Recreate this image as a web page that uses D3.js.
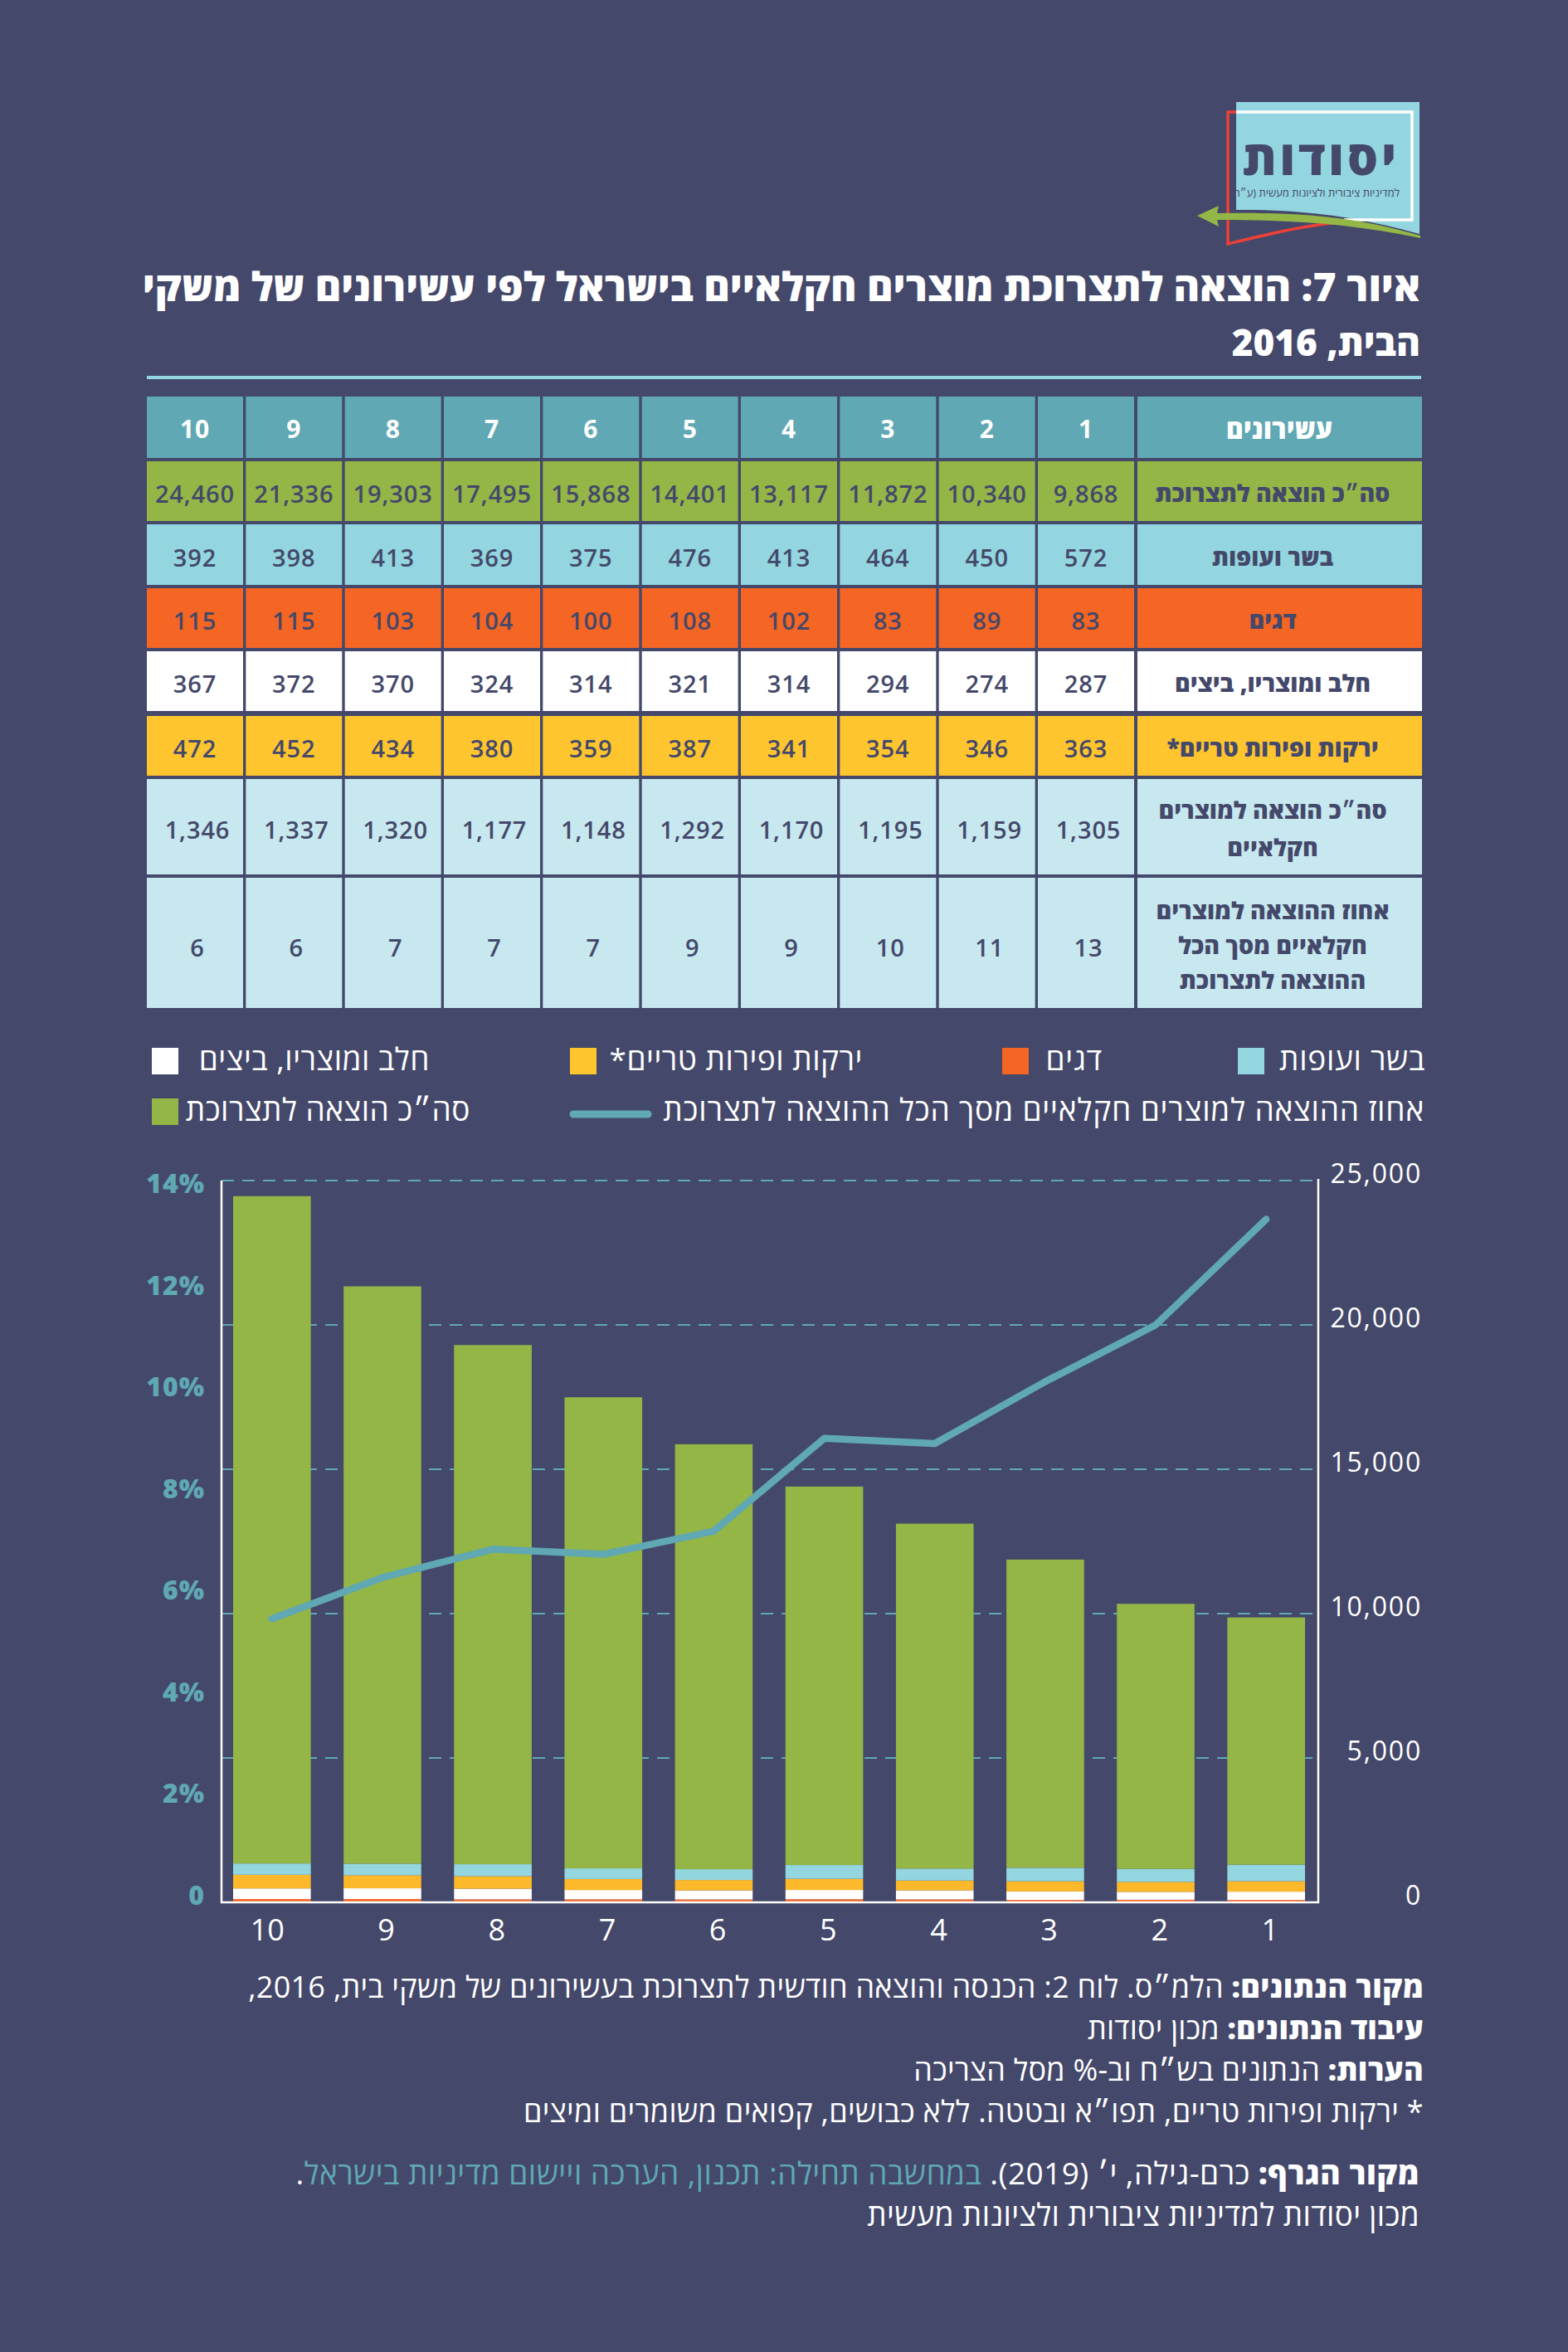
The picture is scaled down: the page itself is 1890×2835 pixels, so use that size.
<!DOCTYPE html>
<html lang="he"><head><meta charset="utf-8">
<script src="https://cdn.jsdelivr.net/npm/d3@7"></script>
<style>
html,body{margin:0;padding:0;background:#44486a}
svg{display:block}
text{font-family:"Open Sans","Noto Sans",sans-serif}
.rtl{direction:rtl;text-anchor:start}
</style></head><body><svg id="c" width="1890" height="2835"></svg>
<script>
// ---- data ----
const deciles=[1,2,3,4,5,6,7,8,9,10];
const totalSpend=[9868,10340,11872,13117,14401,15868,17495,19303,21336,24460];
const meat=[572,450,464,413,476,375,369,413,398,392];
const fish=[83,89,83,102,108,100,104,103,115,115];
const dairy=[287,274,294,314,321,314,324,370,372,367];
const produce=[363,346,354,341,387,359,380,434,452,472];
const agriTotal=[1305,1159,1195,1170,1292,1148,1177,1320,1337,1346];
const agriShareRounded=[13,11,10,9,9,7,7,7,6,6];
const agriShareLine=[13.25,11.2,10.1,8.9,9.0,7.2,6.75,6.85,6.3,5.5];
const leftTicks=[0,2,4,6,8,10,12,14];
const rightTicks=[0,5000,10000,15000,20000,25000];
const rowLabels=[["עשירונים"],["סה״כ הוצאה לתצרוכת"],["בשר ועופות"],["דגים"],["חלב ומוצריו, ביצים"],["ירקות ופירות טריים*"],["סה״כ הוצאה למוצרים","חקלאיים"],["אחוז ההוצאה למוצרים","חקלאיים מסך הכל","ההוצאה לתצרוכת"]];
const titleLines=["איור 7: הוצאה לתצרוכת מוצרים חקלאיים בישראל לפי עשירונים של משקי","הבית, 2016"];

// ---- palette & layout ----
const BG="#44486a",TEAL="#5fa8b4",GREEN="#93b647",BLUE="#93d6df",ORANGE="#f56524",YEL="#fec52e",BARYEL="#fdb92a",PALE="#c7e8ef",WHITE="#ffffff";
const svg=d3.select("#c");
svg.append("rect").attr("width",1890).attr("height",2835).attr("fill",BG);

function rtext(x,y,size,weight,fill){
  return svg.append("text").attr("class","rtl").attr("x",x).attr("y",y)
    .attr("font-size",size).attr("font-weight",weight).attr("fill",fill);
}
// ---- logo ----
const logo=svg.append("g");
logo.append("path").attr("d","M1490 123H1711V282C1640 262 1570 252 1490 253Z").attr("fill",BLUE);
logo.append("path").attr("d","M1490 135H1702V265H1620").attr("fill","none").attr("stroke",WHITE).attr("stroke-width",3.5);
logo.append("path").attr("d","M1490 135H1480V294C1530 282 1570 272 1615 268").attr("fill","none").attr("stroke","#ee4036").attr("stroke-width",3.5);
logo.append("path").attr("d","M1443 260L1469 248L1467 257C1560 256 1625 259 1712 284V287C1630 270 1560 265 1467 265L1469 273Z").attr("fill",GREEN);
rtext(1687,211,58,800,BG).attr("letter-spacing",4).text("יסודות");
rtext(1687,237,13,400,BG).text("למדיניות ציבורית ולציונות מעשית (ע״ר)");

// ---- title ----
rtext(1712,363,48,800,WHITE).text(titleLines[0]);
rtext(1712,429,44,800,WHITE).text(titleLines[1]);
svg.append("rect").attr("x",177).attr("y",453).attr("width",1536).attr("height",4).attr("fill",BLUE);

// ---- table ----
const rowTop=[478,556,632,709,785,863,939,1058];
const rowBot=[552,628,705,781,857,935,1054,1215];
const rowFill=[TEAL,GREEN,BLUE,ORANGE,WHITE,YEL,PALE,PALE];
const rowValues=[deciles,totalSpend,meat,fish,dairy,produce,agriTotal,agriShareRounded];
const colX=d3.scaleBand().domain(deciles.slice().reverse()).range([177,1367]).paddingInner(0.028);
const fmt=d3.format(",");
rowValues.forEach((vals,r)=>{
  const h=rowBot[r]-rowTop[r],cy=rowTop[r]+h/2;
  svg.append("rect").attr("x",1371).attr("y",rowTop[r]).attr("width",343).attr("height",h).attr("fill",rowFill[r]);
  deciles.forEach((d,i)=>{
    svg.append("rect").attr("x",colX(d)).attr("y",rowTop[r]).attr("width",colX.bandwidth()).attr("height",h).attr("fill",rowFill[r]);
    svg.append("text").attr("x",colX(d)+colX.bandwidth()/2+(r>=6?3:0)).attr("y",cy+(r==0?13:r==7?16:14))
      .attr("text-anchor","middle").attr("font-size",r==0?30:29).attr("font-weight",r==0?700:600)
      .attr("letter-spacing",0.9).attr("fill",r==0?WHITE:BG).text(fmt(vals[i]));
  });
  const lines=rowLabels[r],lh=r==7?42:r==6?45:0;
  lines.forEach((l,k)=>{
    svg.append("text").attr("x",r==0?1542:1534).attr("y",cy+(r==0?14:13)+(k-(lines.length-1)/2)*(lh||0)).attr("text-anchor","middle")
      .attr("font-size",r==0?32:28.5).attr("font-weight",800).attr("fill",r==0?WHITE:BG).style("direction","rtl").text(l);
  });
});

// ---- legend ----
const legendItems=[
 {t:"בשר ועופות",x:1492,tx:1718,y:1263,c:BLUE},
 {t:"דגים",x:1208,tx:1329,y:1263,c:ORANGE},
 {t:"ירקות ופירות טריים*",x:687,tx:1040,y:1263,c:YEL},
 {t:"חלב ומוצריו, ביצים",x:183,tx:518,y:1263,c:WHITE},
 {t:"סה״כ הוצאה לתצרוכת",x:183,tx:567,y:1324,c:GREEN}];
legendItems.forEach(d=>{
  svg.append("rect").attr("x",d.x).attr("y",d.y).attr("width",32).attr("height",32).attr("fill",d.c);
  rtext(d.tx,d.y+27,37,500,WHITE).attr("letter-spacing",d.t.length>10?0.5:0.7).text(d.t);
});
svg.append("line").attr("x1",691).attr("x2",781).attr("y1",1343).attr("y2",1343).attr("stroke",TEAL).attr("stroke-width",9).attr("stroke-linecap","round");
rtext(1717,1351,37,500,WHITE).attr("letter-spacing",0.85).text("אחוז ההוצאה למוצרים חקלאיים מסך הכל ההוצאה לתצרוכת");

// ---- chart ----
const L=267,R=1589,T=1423,B=2293;
const x=d3.scaleBand().domain(deciles.slice().reverse()).range([281,1573]).paddingInner(0.297).paddingOuter(0);
const yVal=d3.scaleLinear().domain([0,25000]).range([B,T]);
const yPct=d3.scaleLinear().domain([0,14]).range([B,T]);
const yPctLabel=d3.scaleLinear().domain([0,14]).range([2296,1438]);
// grid
svg.append("g").selectAll("line").data(rightTicks.filter(d=>d>0)).join("line")
  .attr("x1",L).attr("x2",R).attr("y1",yVal).attr("y2",yVal).attr("stroke",TEAL).attr("stroke-width",2).attr("stroke-dasharray","15 10");
// stacked bars
const stackRows=deciles.map((d,i)=>({decile:d,fish:fish[i],dairy:dairy[i],produce:produce[i],meat:meat[i],rest:totalSpend[i]-fish[i]-dairy[i]-produce[i]-meat[i]}));
const keys=["fish","dairy","produce","meat","rest"];
const keyColor={fish:ORANGE,dairy:WHITE,produce:BARYEL,meat:BLUE,rest:GREEN};
const series=d3.stack().keys(keys)(stackRows);
svg.append("g").selectAll("g").data(series).join("g").attr("fill",s=>keyColor[s.key])
  .selectAll("rect").data(s=>s).join("rect")
  .attr("x",d=>x(d.data.decile)).attr("width",x.bandwidth())
  .attr("y",d=>yVal(d[1])).attr("height",d=>yVal(d[0])-yVal(d[1]));
// axes frame
svg.append("path").attr("d",`M${L} ${T}V${B}H${R}V${T-2}`).attr("fill","none").attr("stroke",WHITE).attr("stroke-width",2.5);
// line
const line=d3.line().x((d,i)=>x(deciles[i])+x.bandwidth()/2).y(d=>yPct(d));
svg.append("path").attr("d",line(agriShareLine)).attr("fill","none").attr("stroke",TEAL).attr("stroke-width",8.5).attr("stroke-linecap","round").attr("stroke-linejoin","round");
// axis labels
svg.append("g").selectAll("text").data(leftTicks).join("text").attr("x",247).attr("y",yPctLabel).attr("text-anchor","end")
  .attr("font-size",32).attr("font-weight",800).attr("letter-spacing",1).attr("fill",TEAL).text(d=>d===0?"0":d+"%");
svg.append("g").selectAll("text").data(rightTicks).join("text").attr("x",1714).attr("y",yVal).attr("dy",3).attr("text-anchor","end")
  .attr("font-size",32).attr("font-weight",500).attr("letter-spacing",1.8).attr("fill",WHITE).text(fmt);
svg.append("g").selectAll("text").data(deciles).join("text").attr("x",d=>x(d)+x.bandwidth()/2+15).attr("y",2339).attr("text-anchor","end")
  .attr("font-size",36).attr("font-weight",500).attr("fill",WHITE).text(d=>d);

// ---- notes ----
const notes=[
 {x:1716,y:2408,fs:36,ls:0.28,parts:[["מקור הנתונים: ",800,WHITE],["הלמ״ס. לוח 2: הכנסה והוצאה חודשית לתצרוכת בעשירונים של משקי בית, 2016,",400,WHITE]]},
 {x:1716,y:2458,fs:36,ls:0.2,parts:[["עיבוד הנתונים: ",800,WHITE],["מכון יסודות",400,WHITE]]},
 {x:1716,y:2508,fs:36,ls:0.25,parts:[["הערות: ",800,WHITE],["הנתונים בש״ח וב-% מסל הצריכה",400,WHITE]]},
 {x:1716,y:2558,fs:36,ls:0.3,parts:[["* ירקות ופירות טריים, תפו״א ובטטה. ללא כבושים, קפואים משומרים ומיצים",400,WHITE]]},
 {x:1711,y:2633,fs:37,ls:0.45,parts:[["מקור הגרף: ",800,WHITE],["כרם-גילה, י׳ (2019). ",400,WHITE],["במחשבה תחילה: תכנון, הערכה ויישום מדיניות בישראל",400,TEAL],[".",400,WHITE]]},
 {x:1711,y:2683,fs:37,ls:0.3,parts:[["מכון יסודות למדיניות ציבורית ולציונות מעשית",400,WHITE]]}];
notes.forEach(n=>{
  const t=rtext(n.x,n.y,n.fs,400,WHITE).attr("letter-spacing",n.ls);
  n.parts.forEach(p=>t.append("tspan").attr("font-weight",p[1]).attr("fill",p[2]).text(p[0]));
});
</script></body></html>
